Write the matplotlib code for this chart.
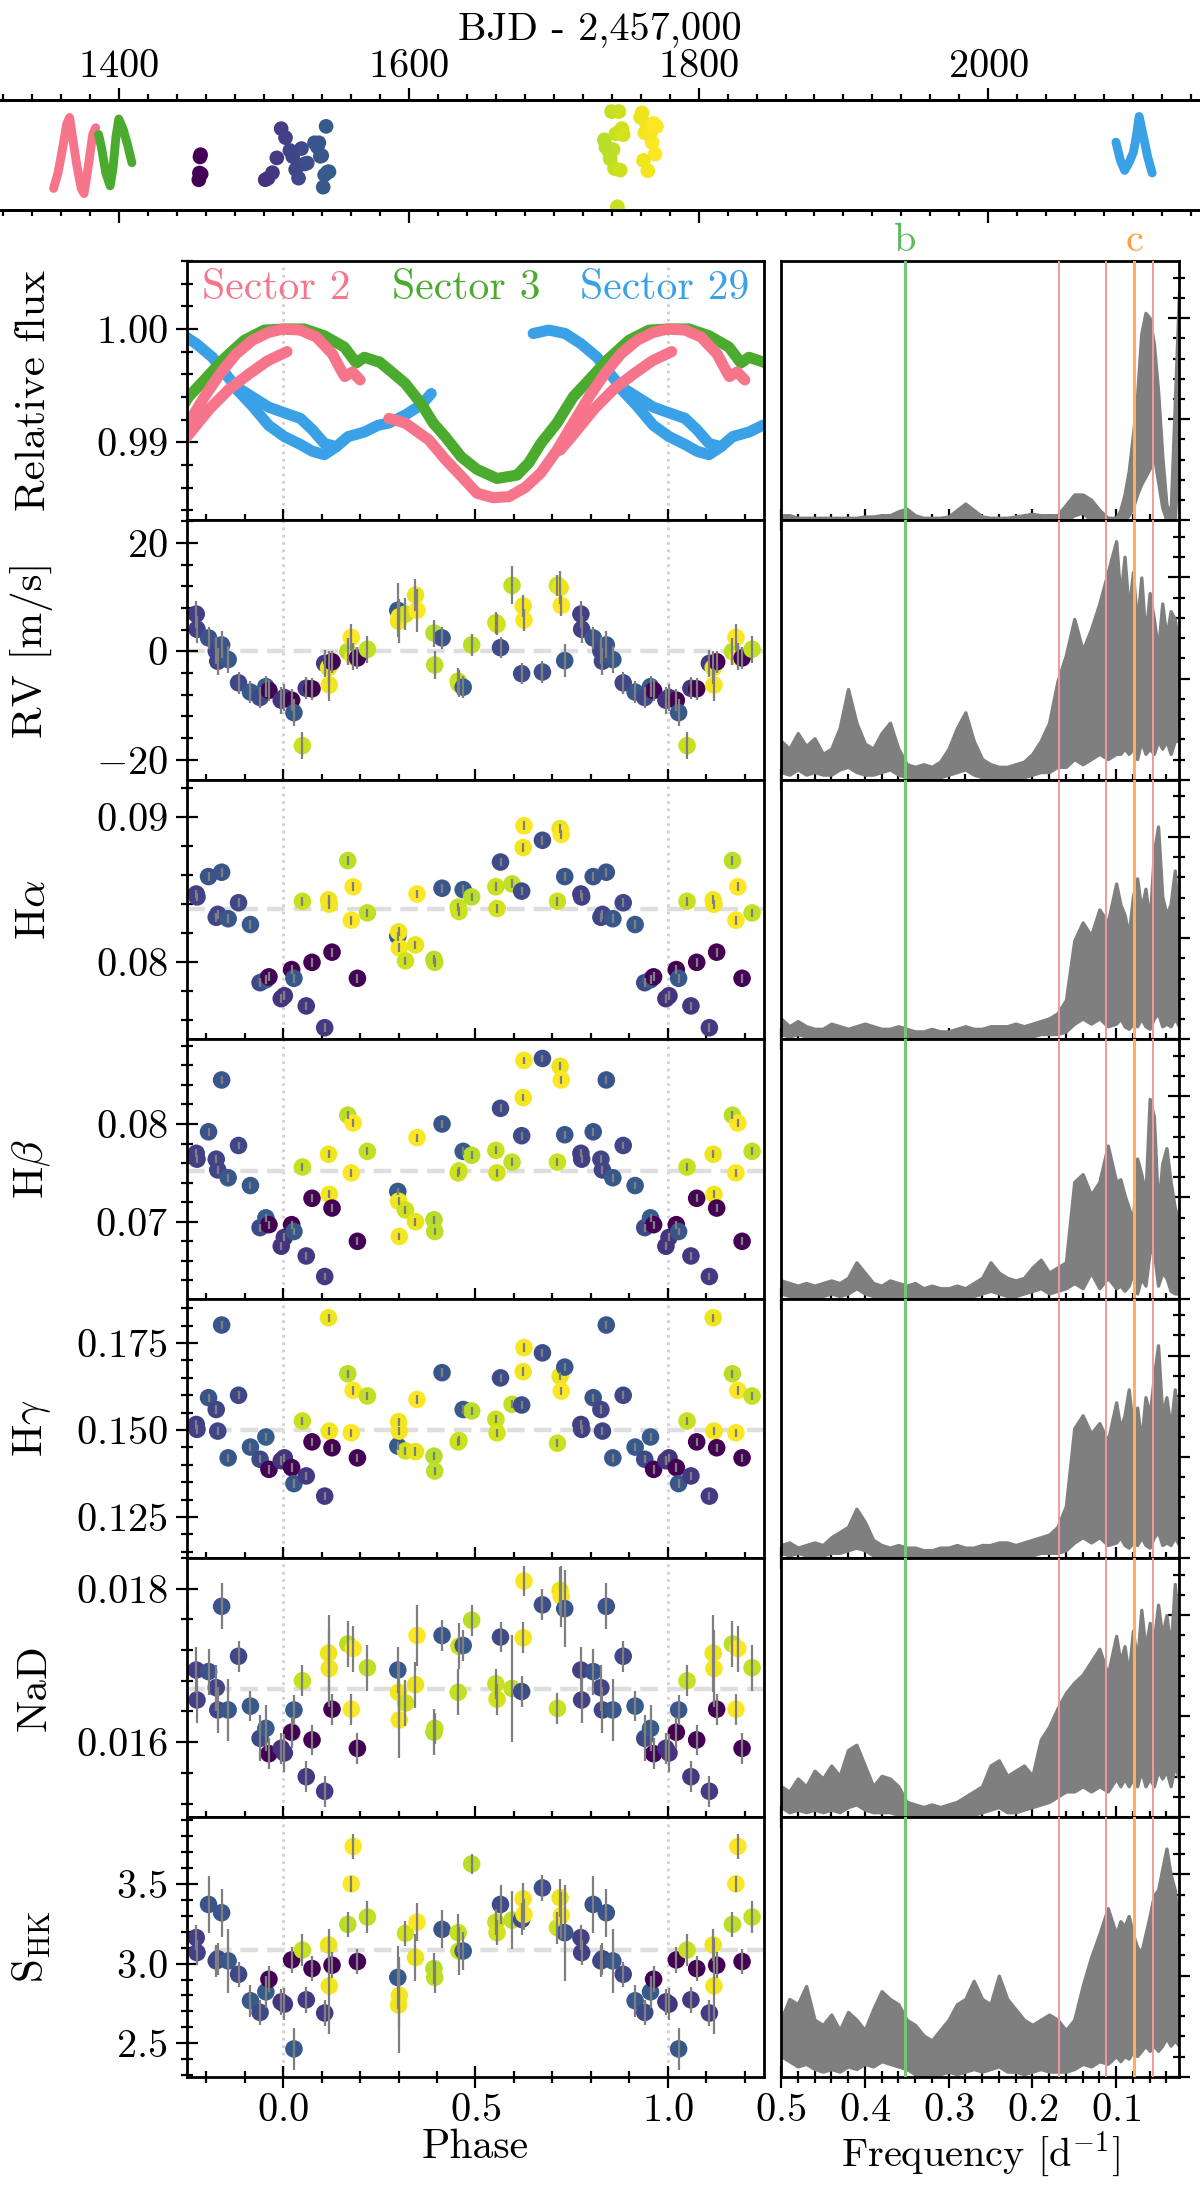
import numpy as np
import matplotlib
matplotlib.use("Agg")
import matplotlib.pyplot as plt
from matplotlib.ticker import MultipleLocator, FuncFormatter
import matplotlib.transforms as mtransforms

plt.rcParams["font.family"] = "serif"
plt.rcParams["font.serif"] = ["cmr10"]
plt.rcParams["mathtext.fontset"] = "cm"
plt.rcParams["axes.unicode_minus"] = False
plt.rcParams["axes.formatter.use_mathtext"] = True
plt.rcParams["axes.linewidth"] = 1.0

# ---------------- spectroscopic observations ----------------
phase = [0.003, 0.022, 0.028, 0.050, 0.060, 0.075, 0.108, 0.118, 0.120, 0.127,
         0.168, 0.177, 0.182, 0.193, 0.219, 0.298, 0.300, 0.302, 0.318, 0.344,
         0.348, 0.392, 0.394, 0.413, 0.455, 0.457, 0.468, 0.490, 0.553, 0.556,
         0.565, 0.595, 0.620, 0.624, 0.626, 0.674, 0.713, 0.720, 0.723, 0.732,
         0.774, 0.776, 0.806, 0.826, 0.830, 0.840, 0.857, 0.884, 0.915, 0.940,
         0.955, 0.963, 0.995]
t_obs = [1503, 1455.2, 1541, 1744, 1506, 1455.6, 1509, 1762, 1765, 1456.0,
         1738, 1768, 1770, 1456.4, 1741, 1543, 1763, 1766, 1747, 1760,
         1771, 1735, 1739, 1538, 1742, 1746, 1544, 1736, 1743, 1748,
         1526, 1740, 1528, 1764, 1767, 1530, 1745, 1761, 1769, 1539,
         1512, 1515, 1535, 1518, 1520, 1537, 1540, 1522, 1542, 1524,
         1545, 1456.8, 1501]
rv = [-8.5, -9.0, -11.3, -17.4, -6.8, -6.9, -2.2, -3.0, -6.2, -1.9,
      0.0, 2.6, -1.0, -1.2, 0.4, 7.6, 5.6, 6.4, 6.9, 10.4,
      7.6, 3.4, -2.5, 2.5, -5.5, -6.0, -6.6, 1.2, 5.3, 5.0,
      0.7, 12.2, -4.1, 8.4, 5.8, -3.8, 12.2, 11.8, 8.5, -1.7,
      6.9, 4.1, 2.5, 0.1, -1.8, 1.2, -1.5, -5.8, -7.5, -8.5,
      -6.5, -7.2, -9.0]
rv_err = [2.5, 2.0, 2.5, 2.5, 2.0, 2.0, 2.5, 3.0, 3.0, 2.0,
          2.5, 2.5, 2.5, 2.0, 2.5, 5.0, 4.0, 3.0, 3.0, 3.0,
          4.0, 2.5, 2.5, 2.0, 2.5, 2.5, 2.0, 2.0, 2.0, 2.0,
          2.0, 3.5, 2.0, 2.0, 2.0, 2.0, 2.0, 3.0, 2.0, 3.0,
          2.5, 2.5, 2.0, 2.5, 2.5, 2.5, 2.5, 2.0, 2.0, 2.0,
          2.0, 2.0, 2.5]
halpha = [0.0777, 0.0795, 0.0789, 0.0842, 0.0770, 0.0800, 0.0755, 0.0843, 0.0840, 0.0807,
          0.0870, 0.0829, 0.0852, 0.0789, 0.0834, 0.0818, 0.0821, 0.0810, 0.0801, 0.0812,
          0.0847, 0.0802, 0.0800, 0.0851, 0.0838, 0.0835, 0.0850, 0.0845, 0.0852, 0.0837,
          0.0869, 0.0854, 0.0849, 0.0879, 0.0894, 0.0884, 0.0842, 0.0892, 0.0888, 0.0859,
          0.0847, 0.0845, 0.0859, 0.0831, 0.0833, 0.0862, 0.0830, 0.0841, 0.0826, 0.0786,
          0.0788, 0.0790, 0.0775]
hbeta = [0.0684, 0.0697, 0.0690, 0.0756, 0.0665, 0.0724, 0.0644, 0.0769, 0.0728, 0.0714,
         0.0809, 0.0750, 0.0801, 0.0680, 0.0772, 0.0731, 0.0721, 0.0685, 0.0712, 0.0700,
         0.0786, 0.0702, 0.0690, 0.0800, 0.0750, 0.0752, 0.0772, 0.0768, 0.0773, 0.0750,
         0.0816, 0.0761, 0.0788, 0.0827, 0.0865, 0.0867, 0.0761, 0.0859, 0.0845, 0.0789,
         0.0770, 0.0764, 0.0792, 0.0764, 0.0753, 0.0845, 0.0745, 0.0778, 0.0737, 0.0694,
         0.0704, 0.0697, 0.0675]
hgamma = [0.1420, 0.1392, 0.1346, 0.1526, 0.1368, 0.1466, 0.1310, 0.1823, 0.1497, 0.1449,
          0.1662, 0.1492, 0.1614, 0.1420, 0.1598, 0.1454, 0.1524, 0.1497, 0.1440, 0.1438,
          0.1588, 0.1425, 0.1382, 0.1665, 0.1466, 0.1470, 0.1559, 0.1555, 0.1531, 0.1492,
          0.1650, 0.1574, 0.1572, 0.1668, 0.1737, 0.1722, 0.1462, 0.1655, 0.1612, 0.1681,
          0.1516, 0.1502, 0.1593, 0.1559, 0.1497, 0.1802, 0.1420, 0.1600, 0.1451, 0.1416,
          0.1480, 0.1387, 0.1412]
nad = [0.01586, 0.01613, 0.01642, 0.01680, 0.01555, 0.01603, 0.01536, 0.01716, 0.01696, 0.01643,
       0.01728, 0.01643, 0.01722, 0.01592, 0.01697, 0.01694, 0.01665, 0.01629, 0.01651, 0.01675,
       0.01739, 0.01613, 0.01618, 0.01739, 0.01665, 0.01725, 0.01726, 0.01759, 0.01676, 0.01656,
       0.01737, 0.01670, 0.01666, 0.01736, 0.01810, 0.01779, 0.01644, 0.01798, 0.01790, 0.01774,
       0.01694, 0.01655, 0.01692, 0.01671, 0.01642, 0.01777, 0.01642, 0.01712, 0.01647, 0.01605,
       0.01618, 0.01585, 0.01592]
nad_err = [0.00025, 0.0002, 0.0002, 0.0002, 0.0002, 0.0002, 0.0002, 0.0005, 0.0005, 0.0002,
           0.0003, 0.0002, 0.0003, 0.0002, 0.0003, 0.0003, 0.0004, 0.0005, 0.0003, 0.0003,
           0.0004, 0.0003, 0.0002, 0.0002, 0.0003, 0.0003, 0.0002, 0.0002, 0.0002, 0.0002,
           0.0002, 0.0007, 0.0002, 0.0002, 0.0002, 0.0002, 0.0002, 0.0003, 0.0004, 0.0005,
           0.0003, 0.0003, 0.0003, 0.0003, 0.0003, 0.0003, 0.0004, 0.0002, 0.0002, 0.0003,
           0.0003, 0.0002, 0.0002]
shk = [2.746, 3.023, 2.465, 3.085, 2.773, 2.969, 2.690, 3.117, 2.860, 2.990,
       3.246, 3.500, 3.735, 3.013, 3.292, 2.913, 2.740, 2.800, 3.190, 3.038,
       3.260, 2.969, 2.913, 3.215, 3.194, 3.079, 3.079, 3.625, 3.260, 3.194,
       3.371, 3.273, 3.277, 3.406, 3.308, 3.475, 3.225, 3.413, 3.302, 3.194,
       3.163, 3.069, 3.371, 3.017, 3.030, 3.319, 3.017, 2.933, 2.767, 2.694,
       2.823, 2.902, 2.760]
shk_err = [0.10, 0.08, 0.13, 0.10, 0.08, 0.08, 0.08, 0.10, 0.30, 0.08,
           0.08, 0.05, 0.08, 0.08, 0.10, 0.20, 0.30, 0.20, 0.08, 0.15,
           0.12, 0.10, 0.10, 0.12, 0.12, 0.15, 0.12, 0.06, 0.08, 0.08,
           0.12, 0.18, 0.10, 0.10, 0.10, 0.08, 0.10, 0.12, 0.15, 0.30,
           0.08, 0.08, 0.18, 0.10, 0.10, 0.15, 0.20, 0.08, 0.10, 0.08,
           0.10, 0.08, 0.08]
ha_err, hb_err, hg_err = 0.0003, 0.0004, 0.0012
indicator_means = [0.0, 0.08366, 0.07517, 0.150, 0.01669, 3.083]

# ---------------- TESS light curves ----------------
sec2_t = [1355, 1358, 1361, 1364, 1366, 1368, 1371, 1374, 1376, 1379, 1382, 1384]
sec2_f = [0.9860, 0.9890, 0.9935, 0.9985, 0.9998, 0.9960, 0.9905, 0.9860, 0.9850, 0.9905, 0.9965, 0.9978]
sec3_t = [1386, 1388, 1391, 1394, 1396, 1398, 1400, 1403, 1406, 1409]
sec3_f = [0.9965, 0.9940, 0.9890, 0.9865, 0.9900, 0.9960, 0.9995, 0.9975, 0.9945, 0.9910]
sec29_t = [2088, 2091, 2094, 2097, 2100, 2102, 2104, 2107, 2110, 2113]
sec29_f = [0.9950, 0.9915, 0.9895, 0.9910, 0.9930, 0.9960, 1.0000, 0.9960, 0.9920, 0.9890]

s2_ph = [0.275, 0.317, 0.379, 0.421, 0.463, 0.504, 0.546, 0.587, 0.629, 0.670, 0.712, 0.754, 0.795,
         0.837, 0.878, 0.920, 0.962, 1.000, 1.045, 1.086, 1.128, 1.150, 1.160, 1.180, 1.200]
s2_fx = [0.9921, 0.9917, 0.9902, 0.9885, 0.9870, 0.9855, 0.9851, 0.9852, 0.9860, 0.9873, 0.9893, 0.9917, 0.9940,
         0.9961, 0.9978, 0.9990, 0.9997, 1.0000, 0.9999, 0.9993, 0.9978, 0.9964, 0.9958, 0.9962, 0.9955]
s2b_ph = [0.72, 0.75, 0.81, 0.86, 0.91, 0.96, 1.01]
s2b_fx = [0.9893, 0.9905, 0.9930, 0.9947, 0.9960, 0.9972, 0.9980]
s3_ph = [0.250, 0.275, 0.317, 0.359, 0.390, 0.421, 0.463, 0.504, 0.556, 0.608, 0.639, 0.670, 0.712,
         0.754, 0.795, 0.847, 0.899, 0.951, 1.003, 1.055, 1.107, 1.159, 1.190, 1.211, 1.247]
s3_fx = [0.9971, 0.9964, 0.9952, 0.9934, 0.9917, 0.9905, 0.9887, 0.9876, 0.9868, 0.9871, 0.9882, 0.9899, 0.9917,
         0.9940, 0.9955, 0.9974, 0.9990, 0.9999, 1.0000, 1.0000, 0.9994, 0.9984, 0.9970, 0.9975, 0.9971]
s29_ph = [0.650, 0.691, 0.733, 0.774, 0.816, 0.858, 0.878, 0.920, 0.962, 1.003, 1.045, 1.076, 1.107,
          1.138, 1.169, 1.211, 1.247, 1.275, 1.317, 1.359, 1.385]
s29_fx = [0.9996, 0.9999, 0.9996, 0.9987, 0.9975, 0.9957, 0.9949, 0.9940, 0.9931, 0.9926, 0.9921, 0.9911, 0.9899,
          0.9896, 0.9905, 0.9909, 0.9915, 0.9917, 0.9924, 0.9933, 0.9943]
s29b_ph = [0.870, 0.920, 0.962, 1.003, 1.045, 1.076, 1.107, 1.138]
s29b_fx = [0.9950, 0.9932, 0.9915, 0.9905, 0.9898, 0.9892, 0.9889, 0.9896]

# ---------------- periodograms (fraction of panel height) ----------------
pg_freq = [0.50, 0.49, 0.48, 0.47, 0.46, 0.45, 0.44, 0.43, 0.42, 0.41,
           0.40, 0.39, 0.38, 0.37, 0.36, 0.35, 0.34, 0.33, 0.32, 0.31,
           0.30, 0.29, 0.28, 0.27, 0.26, 0.25, 0.24, 0.23, 0.22, 0.21,
           0.20, 0.19, 0.18, 0.17, 0.16, 0.15, 0.14, 0.13, 0.12, 0.11,
           0.10, 0.095, 0.09, 0.085, 0.08, 0.075, 0.07, 0.065, 0.06, 0.055,
           0.05, 0.045, 0.04, 0.035, 0.03, 0.025]
pg_flux_hi = [.02, .02, .01, .01, .01, .01, .01, .01, .01, .01,
              .015, .015, .02, .02, .035, .045, .02, .01, .01, .01,
              .015, .04, .065, .04, .015, .01, .01, .01, .015, .02,
              .025, .02, .02, .02, .06, .10, .10, .08, .04, .01,
              .01, .04, .10, .19, .33, .48, .72, .80, .78, .68, .50, .25, .06, .03, .45, .88]
pg_flux_lo = [0, 0, 0, 0, 0, 0, 0, 0, 0, 0,
              0, 0, 0, 0, 0, 0, 0, 0, 0, 0,
              0, 0, 0, 0, 0, 0, 0, 0, 0, 0,
              0, 0, 0, 0, 0, .02, .03, 0, 0, 0,
              0, 0, 0, .02, .05, .10, .14, .17, .20, .25, .15, .05, 0, 0, 0, .30]
pg_rv_hi = [.15, .12, .18, .13, .16, .10, .12, .20, .35, .22,
            .14, .12, .18, .22, .12, .06, .05, .06, .05, .07,
            .12, .20, .26, .15, .08, .06, .05, .05, .06, .07,
            .10, .15, .22, .38, .48, .62, .50, .58, .68, .80,
            .92, .70, .86, .65, .80, .60, .78, .55, .72, .62, .50, .68, .55, .65, .62, .50]
pg_rv_lo = [.03, .02, .04, .02, .03, .02, .02, .04, .05, .03,
            .02, .02, .03, .04, .02, .01, .01, .01, .01, .01,
            .02, .03, .04, .02, .01, .01, .01, .01, .01, .01,
            .02, .03, .03, .05, .05, .08, .06, .08, .10, .08,
            .10, .10, .12, .10, .12, .08, .15, .10, .12, .10, .15, .12, .15, .10, .15, .15]
pg_ha_hi = [.08, .05, .07, .05, .04, .04, .06, .05, .04, .05,
            .06, .05, .04, .04, .05, .04, .03, .03, .04, .03,
            .03, .04, .05, .04, .04, .05, .05, .05, .06, .05,
            .06, .07, .08, .10, .15, .38, .45, .40, .50, .45,
            .60, .52, .48, .40, .55, .62, .50, .58, .45, .72, .82, .55, .48, .52, .65, .40]
pg_ha_lo = [.02, .01, .02, .01, .01, .01, .01, .01, .01, .01,
            .01, .01, .01, .01, .01, .01, .01, .01, .01, .01,
            .01, .01, .01, .01, .01, .01, .01, .01, .01, .01,
            .01, .02, .02, .02, .03, .06, .08, .06, .08, .05,
            .06, .08, .05, .04, .06, .05, .08, .05, .04, .08, .10, .05, .06, .05, .08, .05]
pg_hb_hi = [.07, .06, .05, .06, .05, .06, .07, .06, .08, .14,
            .10, .06, .05, .07, .06, .05, .06, .04, .05, .04,
            .04, .05, .04, .06, .08, .14, .10, .08, .07, .08,
            .12, .15, .10, .12, .14, .45, .48, .40, .45, .59,
            .45, .46, .40, .35, .30, .54, .48, .40, .77, .70, .35, .52, .58, .45, .35, .30]
pg_hb_lo = [.02, .01, .01, .01, .01, .01, .02, .01, .02, .04,
            .02, .01, .01, .01, .01, .01, .01, .00, .01, .00,
            .00, .01, .01, .01, .02, .03, .02, .01, .01, .02,
            .03, .04, .02, .03, .04, .06, .04, .10, .04, .08,
            .04, .05, .03, .05, .10, .02, .08, .05, .18, .18, .05, .10, .08, .03, .02, .02]
pg_hg_hi = [.05, .06, .04, .05, .06, .05, .08, .10, .12, .19,
            .14, .07, .05, .04, .05, .04, .04, .03, .03, .04,
            .04, .05, .04, .04, .05, .05, .06, .06, .05, .06,
            .07, .08, .09, .12, .20, .50, .55, .48, .52, .45,
            .60, .50, .55, .65, .50, .58, .45, .62, .55, .70, .82, .55, .62, .50, .65, .45]
pg_hg_lo = [.02, .01, .02, .01, .01, .01, .02, .02, .03, .04,
            .03, .01, .01, .01, .01, .01, .01, .01, .01, .01,
            .01, .01, .01, .01, .01, .01, .01, .01, .01, .01,
            .01, .02, .02, .02, .03, .06, .08, .06, .08, .05,
            .06, .08, .05, .04, .06, .05, .08, .05, .04, .08, .10, .05, .06, .05, .08, .05]
pg_nad_hi = [.12, .10, .15, .12, .18, .15, .20, .16, .26, .28,
             .20, .12, .16, .15, .12, .06, .05, .04, .05, .04,
             .05, .06, .08, .10, .12, .20, .22, .16, .18, .20,
             .16, .30, .35, .42, .48, .52, .55, .60, .65, .55,
             .70, .60, .66, .55, .72, .60, .80, .65, .75, .68, .82, .70, .78, .65, .90, .70]
pg_nad_lo = [.04, .02, .03, .02, .03, .02, .03, .02, .04, .05,
             .03, .02, .02, .02, .01, .01, .00, .00, .00, .00,
             .00, .01, .01, .01, .02, .03, .04, .02, .02, .03,
             .04, .05, .06, .08, .10, .10, .12, .10, .12, .10,
             .15, .12, .15, .12, .15, .12, .18, .12, .15, .12, .18, .15, .18, .12, .20, .15]
pg_shk_hi = [.22, .30, .28, .35, .22, .20, .24, .18, .25, .22,
             .18, .26, .33, .30, .28, .22, .20, .16, .14, .18,
             .22, .28, .30, .37, .30, .28, .39, .30, .26, .22,
             .20, .22, .24, .22, .18, .22, .35, .46, .55, .65,
             .55, .60, .58, .62, .55, .50, .48, .55, .62, .70, .72, .80, .88, .78, .72, .55]
pg_shk_lo = [.08, .06, .04, .05, .03, .02, .03, .02, .04, .03,
             .05, .04, .06, .05, .04, .03, .01, .00, .00, .01,
             .02, .01, .02, .03, .02, .03, .04, .02, .02, .01,
             .02, .03, .02, .02, .02, .03, .05, .04, .06, .05,
             .08, .06, .08, .07, .10, .08, .10, .12, .10, .12, .10, .12, .15, .12, .14, .12]

f_planet_b, f_planet_c = 0.352, 0.0786
f_rot = [0.168, 0.112, 0.056]

# ---------------- figure ----------------
W, H = 1200.0, 2187.0
fig = plt.figure(figsize=(W / 200, H / 200), dpi=200)


def box(x0, y0, x1, y1):
    return [x0 / W, 1 - y1 / H, (x1 - x0) / W, (y1 - y0) / H]


def mfmt(f):
    return FuncFormatter(lambda v, p: "$" + (f % v) + "$")


FS = 14.5
c2, c3, c29 = "#f6758a", "#4bab2f", "#3ba1e6"
cmap, vmin, vmax = "viridis", 1455, 1770
gray = "#7f7f7f"

# top: time series
ax_t = fig.add_axes(box(0, 100, 1200, 210))
ax_t.plot(sec2_t, sec2_f, color=c2, lw=3.2, solid_capstyle="round")
ax_t.plot(sec3_t, sec3_f, color=c3, lw=3.2, solid_capstyle="round")
ax_t.plot(sec29_t, sec29_f, color=c29, lw=3.2, solid_capstyle="round")
ax_t.set_ylim(0.9818, 1.0032)
ax_t.set_xlim(1318, 2146)
ax_t2 = ax_t.twinx()
ax_t2.scatter(t_obs, rv, c=t_obs, cmap=cmap, vmin=vmin, vmax=vmax, s=28, lw=0)
ax_t2.set_ylim(-18.4, 15.8)
ax_t2.set_yticks([])
ax_t.set_yticks([0.9925])
ax_t.tick_params(axis="y", labelleft=False, length=3)
ax_t.xaxis.set_major_locator(MultipleLocator(200))
ax_t.xaxis.set_minor_locator(MultipleLocator(20))
ax_t.xaxis.set_major_formatter(mfmt("%d"))
ax_t.tick_params(axis="x", which="both", top=True, bottom=True, labeltop=True,
                 labelbottom=False, direction="out", labelsize=FS, pad=1.0)
ax_t.tick_params(axis="x", which="major", length=4.5, width=0.8)
ax_t.tick_params(axis="x", which="minor", length=2.2, width=0.8)
ax_t.xaxis.set_label_position("top")
ax_t.set_xlabel("BJD - 2,457,000", fontsize=FS, labelpad=3)
for s in ("left", "right"):
    ax_t.spines[s].set_visible(False)
    ax_t2.spines[s].set_visible(False)

# rows
top, ph_h = 261.0, 259.4
rows = [
    ("Relative flux", None, None, (0.9831, 1.006), 0.01, 0.002, "%.2f", pg_flux_hi, pg_flux_lo),
    ("RV [m/s]", rv, rv_err, (-23.7, 24.2), 20, 4, "%d", pg_rv_hi, pg_rv_lo),
    (r"H$\alpha$", halpha, ha_err, (0.07471, 0.09256), 0.01, 0.002, "%.2f", pg_ha_hi, pg_ha_lo),
    (r"H$\beta$", hbeta, hb_err, (0.06214, 0.08867), 0.01, 0.002, "%.2f", pg_hb_hi, pg_hb_lo),
    (r"H$\gamma$", hgamma, hg_err, (0.1132, 0.1878), 0.025, 0.005, "%.3f", pg_hg_hi, pg_hg_lo),
    ("NaD", nad, nad_err, (0.01502, 0.0184), 0.002, 0.0004, "%.3f", pg_nad_hi, pg_nad_lo),
    (r"S$_{\rm HK}$", shk, shk_err, (2.29, 3.917), 0.5, 0.1, "%.1f", pg_shk_hi, pg_shk_lo),
]

ph_arr = np.array(phase)
for k, (lab, vals, errs, ylim, maj, mnr, fmt, hi, lo) in enumerate(rows):
    y0 = top + k * ph_h
    axl = fig.add_axes(box(187, y0, 764, y0 + ph_h))
    axr = fig.add_axes(box(781, y0, 1179, y0 + ph_h))

    # ---- phase panel ----
    axl.axvline(0, color="#d0d0d0", ls=":", lw=1.0, zorder=0)
    axl.axvline(1, color="#d0d0d0", ls=":", lw=1.0, zorder=0)
    if vals is None:
        for off in (-1, 0, 1):
            axl.plot(np.array(s29_ph) + off, s29_fx, color=c29, lw=4, solid_capstyle="round")
            axl.plot(np.array(s29b_ph) + off, s29b_fx, color=c29, lw=4, solid_capstyle="round")
            axl.plot(np.array(s3_ph) + off, s3_fx, color=c3, lw=4, solid_capstyle="round")
            axl.plot(np.array(s2b_ph) + off, s2b_fx, color=c2, lw=4, solid_capstyle="round")
            axl.plot(np.array(s2_ph) + off, s2_fx, color=c2, lw=4, solid_capstyle="round")
        axl.text(0.154, 0.895, "Sector 2", color=c2, fontsize=FS + 0.5, ha="center", va="center",
                 transform=axl.transAxes)
        axl.text(0.484, 0.895, "Sector 3", color=c3, fontsize=FS + 0.5, ha="center", va="center",
                 transform=axl.transAxes)
        axl.text(0.827, 0.895, "Sector 29", color=c29, fontsize=FS + 0.5, ha="center", va="center",
                 transform=axl.transAxes)
    else:
        axl.axhline(indicator_means[k - 1], color="#dedede", ls="--", lw=1.6,
                    dashes=(4, 2), zorder=0)
        for off in (-1, 0, 1):
            axl.scatter(ph_arr + off, vals, c=t_obs, cmap=cmap, vmin=vmin, vmax=vmax,
                        s=40, lw=0, zorder=2)
            axl.errorbar(ph_arr + off, vals, yerr=errs, fmt="none", ecolor=gray,
                         elinewidth=0.8, capsize=0, zorder=3)
    axl.set_xlim(-0.25, 1.25)
    axl.set_ylim(*ylim)
    axl.xaxis.set_major_locator(MultipleLocator(0.5))
    axl.xaxis.set_minor_locator(MultipleLocator(0.1))
    axl.yaxis.set_major_locator(MultipleLocator(maj))
    axl.yaxis.set_minor_locator(MultipleLocator(mnr))
    axl.yaxis.set_major_formatter(mfmt(fmt))
    axl.xaxis.set_major_formatter(mfmt("%.1f"))
    axl.tick_params(which="both", direction="inout", top=False, right=False,
                    labelsize=FS, width=0.8)
    axl.tick_params(which="major", length=7.8, pad=3)
    axl.tick_params(which="minor", length=4.2)
    axl.tick_params(axis="x", which="major", pad=2)
    axl.set_ylabel(lab, fontsize=FS + 1)
    axl.yaxis.set_label_coords(-0.232, 0.5)
    if k < len(rows) - 1:
        axl.tick_params(axis="x", labelbottom=False)
    else:
        axl.set_xlabel("Phase", fontsize=FS + 0.5, labelpad=0)

    # ---- periodogram ----
    axr.fill_between(pg_freq, lo, hi, color=gray, lw=1.2, edgecolor=gray, zorder=2)
    axr.axvline(f_planet_b, color="#74c874", lw=1.1, zorder=3)
    for fr in f_rot:
        axr.axvline(fr, color="#f29a9a", lw=0.7, zorder=3)
    axr.axvline(f_planet_c, color="#ffae5c", lw=1.1, zorder=3)
    axr.set_xlim(0.5, 0.025)
    axr.set_ylim(0, 1)
    axr.xaxis.set_major_locator(MultipleLocator(0.1))
    axr.xaxis.set_minor_locator(MultipleLocator(0.02))
    axr.xaxis.set_major_formatter(mfmt("%.1f"))
    axr.yaxis.set_major_locator(MultipleLocator(0.39))
    axr.yaxis.set_minor_locator(MultipleLocator(0.078))
    axr.yaxis.tick_right()
    axr.tick_params(which="both", direction="inout", top=False, left=False, right=True,
                    labelright=False, labelsize=FS, width=0.8)
    axr.tick_params(which="major", length=7.8, pad=2)
    axr.tick_params(which="minor", length=4.2)
    if k == 0:
        tr = mtransforms.blended_transform_factory(axr.transData, axr.transAxes)
        axr.text(f_planet_b, 1.006, "b", color="#5dbb5d", fontsize=FS, ha="center",
                 va="bottom", transform=tr)
        axr.text(f_planet_c, 1.006, "c", color="#ff9f40", fontsize=FS, ha="center",
                 va="bottom", transform=tr)
    if k < len(rows) - 1:
        axr.tick_params(axis="x", labelbottom=False)
    else:
        axr.set_xlabel(r"Frequency [d$^{-1}$]", fontsize=FS, labelpad=0)

fig.savefig("out.png", dpi=200)
